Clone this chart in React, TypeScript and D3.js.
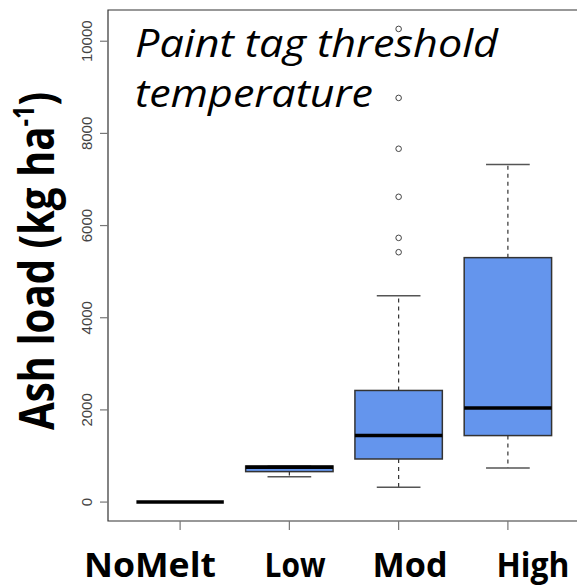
import React, { useRef, useEffect } from 'react';
import * as d3 from 'd3';

// box stats (kg/ha)
const groups = ['NoMelt', 'Low', 'Mod', 'High'];
const lowerWhisker = [0, 552, 320, 739];
const q1 = [0, 661, 935, 1443];
const median = [0, 754, 1443, 2043];
const q3 = [0, 783, 2422, 5304];
const upperWhisker = [0, 783, 4478, 7326];
// outliers of the Mod group (index 2)
const outliers = [
  { group: 2, value: 5422 },
  { group: 2, value: 5733 },
  { group: 2, value: 6624 },
  { group: 2, value: 7667 },
  { group: 2, value: 8770 },
  { group: 2, value: 10267 },
];
const yTicks = [0, 2000, 4000, 6000, 8000, 10000];
const groupLabelX = [150, 295, 410, 533];
const groupLabelW = [132, 61, 75, 73];

const App = () => {
  const svgRef = useRef(null);

  useEffect(() => {
    const width = 577;
    const height = 587;
    const svg = d3.select(svgRef.current).attr('width', width).attr('height', height);
    svg.selectAll('*').remove();

    const allVals = [...lowerWhisker, ...upperWhisker, ...outliers.map(d => d.value)];
    const lo = d3.min(allVals);
    const hi = d3.max(allVals);
    const pad = (hi - lo) * 0.04;
    const y = d3.scaleLinear().domain([lo - pad, hi + pad]).range([521, 10]);
    const x = d3.scaleLinear().domain([0.34, 4.66]).range([108, 580]);
    const bw = 0.8;

    // frame
    svg.append('path')
      .attr('d', `M${x(4.66) + 2},10H108V521H${x(4.66) + 2}`)
      .attr('fill', 'none')
      .attr('stroke', '#333')
      .attr('stroke-width', 1.2);

    // y ticks
    const yg = svg.append('g');
    yg.selectAll('line').data(yTicks).enter().append('line')
      .attr('x1', 100).attr('x2', 108)
      .attr('y1', d => y(d)).attr('y2', d => y(d))
      .attr('stroke', '#777').attr('stroke-width', 1.2);
    yg.selectAll('text').data(yTicks).enter().append('text')
      .attr('transform', d => `translate(92,${y(d)}) rotate(-90)`)
      .attr('text-anchor', 'middle')
      .style('font-family', '"Liberation Sans", Arial, sans-serif')
      .style('font-size', '15px')
      .style('fill', '#444')
      .text(d => d);

    // x ticks
    svg.append('g').selectAll('line').data(groups).enter().append('line')
      .attr('x1', (d, i) => x(i + 1)).attr('x2', (d, i) => x(i + 1))
      .attr('y1', 521).attr('y2', 530)
      .attr('stroke', '#777').attr('stroke-width', 1.2);

    const boxes = svg.append('g').selectAll('g').data(groups).enter().append('g');

    // whiskers
    boxes.append('line')
      .attr('x1', (d, i) => x(i + 1)).attr('x2', (d, i) => x(i + 1))
      .attr('y1', (d, i) => y(q3[i])).attr('y2', (d, i) => y(upperWhisker[i]))
      .attr('stroke', '#333').attr('stroke-dasharray', '4,4').attr('stroke-width', 1.2);
    boxes.append('line')
      .attr('x1', (d, i) => x(i + 1)).attr('x2', (d, i) => x(i + 1))
      .attr('y1', (d, i) => y(q1[i])).attr('y2', (d, i) => y(lowerWhisker[i]))
      .attr('stroke', '#333').attr('stroke-dasharray', '4,4').attr('stroke-width', 1.2);
    // caps
    [upperWhisker, lowerWhisker].forEach(arr => {
      boxes.append('line')
        .attr('x1', (d, i) => x(i + 1 - bw / 4)).attr('x2', (d, i) => x(i + 1 + bw / 4))
        .attr('y1', (d, i) => y(arr[i])).attr('y2', (d, i) => y(arr[i]))
        .attr('stroke', '#555').attr('stroke-width', 1.5);
    });
    // boxes
    boxes.append('rect')
      .attr('x', (d, i) => x(i + 1 - bw / 2))
      .attr('width', x(1 + bw / 2) - x(1 - bw / 2))
      .attr('y', (d, i) => y(q3[i]))
      .attr('height', (d, i) => y(q1[i]) - y(q3[i]))
      .attr('fill', '#6495ED')
      .attr('stroke', '#333')
      .attr('stroke-width', 1.5);
    // medians
    boxes.append('line')
      .attr('x1', (d, i) => x(i + 1 - bw / 2)).attr('x2', (d, i) => x(i + 1 + bw / 2))
      .attr('y1', (d, i) => y(median[i])).attr('y2', (d, i) => y(median[i]))
      .attr('stroke', '#000').attr('stroke-width', 3.5);

    // outliers
    svg.append('g').selectAll('circle').data(outliers).enter().append('circle')
      .attr('cx', d => x(d.group + 1)).attr('cy', d => y(d.value))
      .attr('r', 2.8)
      .attr('fill', 'none').attr('stroke', '#444').attr('stroke-width', 1);

    // title
    const title = ['Paint tag threshold', 'temperature'];
    const titleW = [363, 238];
    svg.append('g').selectAll('text').data(title).enter().append('text')
      .attr('x', 135).attr('y', (d, i) => 57 + i * 50)
      .attr('textLength', (d, i) => titleW[i])
      .attr('lengthAdjust', 'spacingAndGlyphs')
      .style('font-family', '"Open Sans", sans-serif')
      .style('font-style', 'italic')
      .style('font-size', '39px')
      .style('fill', '#000')
      .text(d => d);

    // group labels
    svg.append('g').selectAll('text').data(groups).enter().append('text')
      .attr('x', (d, i) => groupLabelX[i] - groupLabelW[i] / 2).attr('y', 577)
      .attr('textLength', (d, i) => groupLabelW[i])
      .attr('lengthAdjust', 'spacingAndGlyphs')
      .style('font-family', '"Open Sans", sans-serif')
      .style('font-weight', 'bold')
      .style('font-size', '34px')
      .style('fill', '#000')
      .text(d => d);

    // y axis label
    const yl = svg.append('g');
    const t = yl.append('text')
      .attr('text-anchor', 'middle')
      .style('font-family', '"Open Sans", sans-serif')
      .style('font-weight', 'bold')
      .style('font-size', '48px')
      .style('fill', '#000');
    t.append('tspan').text('Ash load (kg ha');
    t.append('tspan').attr('dy', -20).style('font-size', '28px').text('-1');
    t.append('tspan').attr('dy', 20).text(')');
    const len = t.node().getComputedTextLength();
    const sx = 338 / len;
    yl.attr('transform', `translate(54,261) rotate(-90) scale(${sx},1)`);
  }, []);

  return (
    <svg ref={svgRef} style={{ position: 'absolute', left: 0, top: 0, display: 'block' }}></svg>
  );
};

export default App;
